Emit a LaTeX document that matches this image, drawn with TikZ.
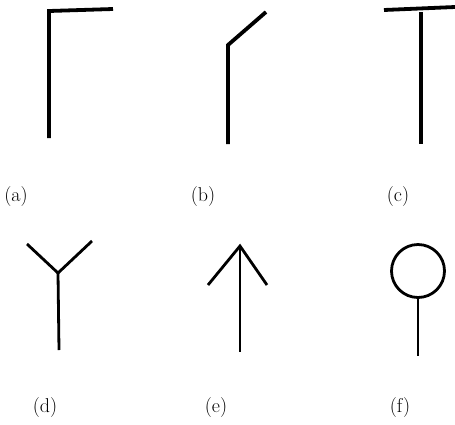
\documentclass[tikz,border=0pt]{standalone}
\usepackage{tikz}
\usetikzlibrary{positioning}

\begin{document}
\begin{tikzpicture}[x=1pt, y=-1pt,
  heavy/.style={line width=3.8pt, line cap=butt, line join=miter},
  light/.style={line width=2.8pt, line cap=butt, line join=miter},
  lbl/.style={font=\fontsize{20}{24}\selectfont, inner sep=0pt}]
\useasboundingbox (0,0) rectangle (455,424);
% (a)
\coordinate (a1) at (49,138);
\coordinate (a2) at (49,11);
\coordinate (a3) at (113,9);
\draw[heavy] (a1) -- (a2) -- (a3);
% (b)
\coordinate (b1) at (228,144);
\coordinate (b2) at (228,45);
\coordinate (b3) at (266,12);
\draw[heavy] (b1) -- (b2) -- (b3);
% (c)
\coordinate (c1) at (384,10);
\coordinate (c2) at (455,7);
\coordinate (c3) at (421,12);
\coordinate (c4) at (421,144);
\draw[heavy] (c1) -- (c2);
\draw[heavy] (c3) -- (c4);
\node[lbl] (la) at (16,197) {(a)};
\node[lbl] (lb) at (203,197) {(b)};
\node[lbl] (lc) at (398,197) {(c)};
% (d)
\coordinate (d0) at (58,273);
\coordinate (dl) at (27,244);
\coordinate (dr) at (92,241);
\coordinate (ds) at (59,350);
\draw[light] (dl) -- (d0) -- (dr);
\draw[light] (d0) -- (ds);
% (e)
\coordinate (e0) at (240,246);
\coordinate (el) at (208,285);
\coordinate (er) at (267,285);
\coordinate (es) at (240,352);
\draw[light] (el) -- (e0) -- (er);
\draw[light] (e0) -- (es);
% (f)
\node[draw, circle, light, minimum size=53pt, inner sep=0pt] (ring) at (418,271) {};
\coordinate (fs) at (418,356);
\draw[light] (ring.south) -- (fs);
\node[lbl] (ld) at (45,408) {(d)};
\node[lbl] (le) at (216,408) {(e)};
\node[lbl] (lf) at (400,408) {(f)};
\end{tikzpicture}
\end{document}
